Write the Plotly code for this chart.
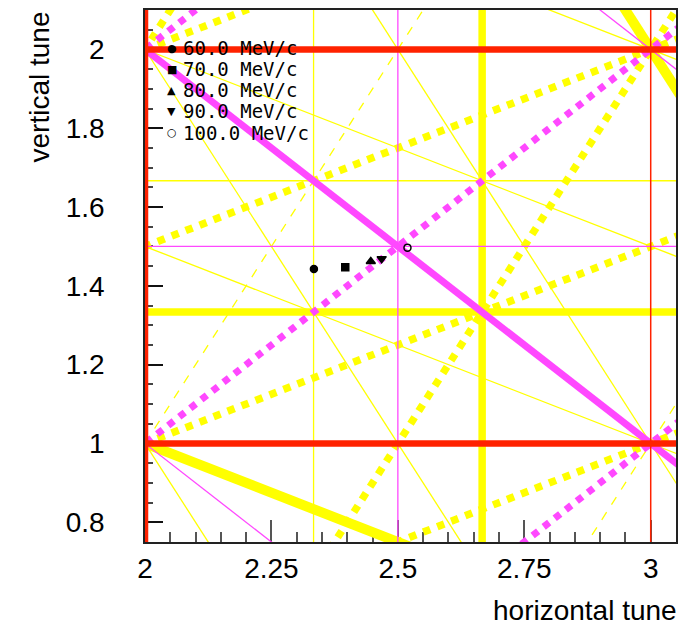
import plotly.graph_objects as go

# ---------------- data ----------------
# beam momentum (MeV/c) and measured working points
momentum = [60.0, 70.0, 80.0, 90.0, 100.0]
tune_h = [2.334, 2.396, 2.4465, 2.468, 2.519]
tune_v = [1.443, 1.4475, 1.462, 1.469, 1.497]

# resonance lines  mx*Qx + my*Qy = p  (grouped by order)
order1_mx = [1, 1, 0, 0]
order1_my = [0, 0, 1, 1]
order1_p = [2, 3, 1, 2]

order2_mx = [2, 0, 1, 1, 1, 1, 1, 1]
order2_my = [0, 2, 1, 1, 1, -1, -1, -1]
order2_p = [5, 3, 3, 4, 5, 0, 1, 2]

order3_mx = [3, 3, 0, 0, 2, 2, 2, 2, 1, 1, 1, 1, 2, 2, 2, 2, 1, 1, 1, 1]
order3_my = [0, 0, 3, 3, 1, 1, 1, 1, 2, 2, 2, 2, -1, -1, -1, -1, -2, -2, -2, -2]
order3_p = [7, 8, 4, 5, 5, 6, 7, 8, 4, 5, 6, 7, 2, 3, 4, 5, 1, 0, -1, -2]

x_tick_vals = [2, 2.25, 2.5, 2.75, 3]
y_tick_vals = [0.8, 1.0, 1.2, 1.4, 1.6, 1.8, 2.0]

# ---------------- styles ----------------
order1_style = ["thick", "thin", "thick", "thick"]
order2_style = ["thin", "thin", "thin", "heavy", "thin", "dot", "dot", "dot"]
order3_style = ["thin", "thick", "thick", "thin", "thin", "thin", "thin", "heavy",
                "heavy", "thin", "thin", "thin", "dot", "dash", "dot", "dash",
                "dot", "dot", "dot", "dot"]

RED = "#ff2200"
MAGENTA = "#ff48ff"
YELLOW = "#ffff00"

STYLE = {
    RED: {"thick": (6.5, "solid"), "thin": (1.5, "solid")},
    MAGENTA: {"heavy": (7, "solid"), "thin": (1.3, "solid"), "dot": (7, "dot")},
    YELLOW: {"thick": (7.5, "solid"), "heavy": (10, "solid"), "thin": (1.3, "solid"),
             "dot": (7.5, "dot"), "dash": (1.3, "dash")},
}

symbols = ["circle", "square", "triangle-up", "triangle-down", "circle-open"]
sizes = [7, 7, 8, 8, 7]
legend_glyphs = ["\u25CF", "\u25A0", "\u25B2", "\u25BC", "\u25CB"]

X_RANGE = [2.0, 3.05]
Y_RANGE = [0.75, 2.1]

W, H = 681, 630
M_L, M_R, M_T, M_B = 145, 5, 10, 88

fig = go.Figure()


def line_points(mx, my, p):
    if my == 0:
        x = p / mx
        return [x, x], [0.0, 3.0]
    xs = [1.5, 3.5]
    return xs, [(p - mx * x) / my for x in xs]


for color, mxs, mys, ps, sts in [
    (YELLOW, order3_mx, order3_my, order3_p, order3_style),
    (MAGENTA, order2_mx, order2_my, order2_p, order2_style),
    (RED, order1_mx, order1_my, order1_p, order1_style),
]:
    for mx, my, p, st in zip(mxs, mys, ps, sts):
        xs, ys = line_points(mx, my, p)
        w, dash = STYLE[color][st]
        fig.add_trace(go.Scatter(
            x=xs, y=ys, mode="lines",
            line=dict(color=color, width=w, dash=dash),
            hoverinfo="skip", showlegend=False,
        ))

for i in range(len(momentum)):
    fig.add_trace(go.Scatter(
        x=[tune_h[i]], y=[tune_v[i]], mode="markers",
        marker=dict(symbol=symbols[i], size=sizes[i], color="black",
                    line=dict(color="black", width=1.5)),
        name=f"{momentum[i]:.1f} MeV/c", showlegend=False,
    ))

# ---------------- manual legend ----------------
PW = W - M_L - M_R
PH = H - M_T - M_B
LEG_MARK_X = 171.5
LEG_TEXT_X = 181
LEG_Y0 = 48.5
LEG_STEP = 21


def px_to_paper(px, py):
    return (px - M_L) / PW, (H - M_B - py) / PH


annotations = []
for i in range(len(momentum)):
    py = LEG_Y0 + i * LEG_STEP
    mx_, my_ = px_to_paper(LEG_MARK_X, py)
    tx_, _ = px_to_paper(LEG_TEXT_X, py)
    annotations.append(dict(
        x=mx_, y=my_, xref="paper", yref="paper", text=legend_glyphs[i],
        showarrow=False, xanchor="center", yanchor="middle",
        font=dict(family="DejaVu Sans", size=11, color="black", weight="bold"),
    ))
    annotations.append(dict(
        x=tx_, y=my_, xref="paper", yref="paper",
        text=f"{momentum[i]:.1f} MeV/c",
        showarrow=False, xanchor="left", yanchor="middle",
        font=dict(family="DejaVu Sans Mono", size=19, color="black"),
    ))

annotations.append(dict(
    x=1, y=0, xref="paper", yref="paper", text="horizontal tune",
    showarrow=False, xanchor="right", yanchor="middle", yshift=-68, xshift=3,
    font=dict(family="Liberation Sans, Arial", size=28, color="black"),
))
annotations.append(dict(
    x=0, y=1, xref="paper", yref="paper", text="vertical tune",
    showarrow=False, xanchor="center", yanchor="top", xshift=-106,
    textangle=-90,
    font=dict(family="Liberation Sans, Arial", size=28, color="black"),
))

axis_common = dict(
    showgrid=False, zeroline=False, showline=True, mirror=True,
    linecolor="#222222", linewidth=1.5, ticks="inside",
    layer="below traces", automargin=False,
    tickfont=dict(family="Liberation Sans, Arial", size=28, color="black"),
)

fig.update_layout(
    width=W, height=H,
    margin=dict(l=M_L, r=M_R, t=M_T, b=M_B, autoexpand=False),
    paper_bgcolor="white", plot_bgcolor="white",
    showlegend=False,
    annotations=annotations,
    xaxis=dict(range=X_RANGE, tickvals=x_tick_vals,
               ticktext=[f"{v:g}" for v in x_tick_vals],
               ticklen=22, tickwidth=1.5, tickcolor="#555555",
               ticklabelstandoff=1,
               minor=dict(dtick=0.05, tick0=2, ticklen=10, tickwidth=1.5,
                          tickcolor="#555555", ticks="inside"),
               **axis_common),
    yaxis=dict(range=Y_RANGE, tickvals=y_tick_vals,
               ticktext=[f"{v:g}" for v in y_tick_vals],
               ticklen=18, tickwidth=2, tickcolor="#111111",
               ticklabelstandoff=33,
               minor=dict(dtick=0.05, tick0=0.75, ticklen=8, tickwidth=1.5,
                          tickcolor="#444444", ticks="inside"),
               **axis_common),
)

fig.write_html("out.html",
               config={"displayModeBar": False},
               post_script="document.body.style.margin='0';"
                           "document.body.style.overflow='hidden';")
